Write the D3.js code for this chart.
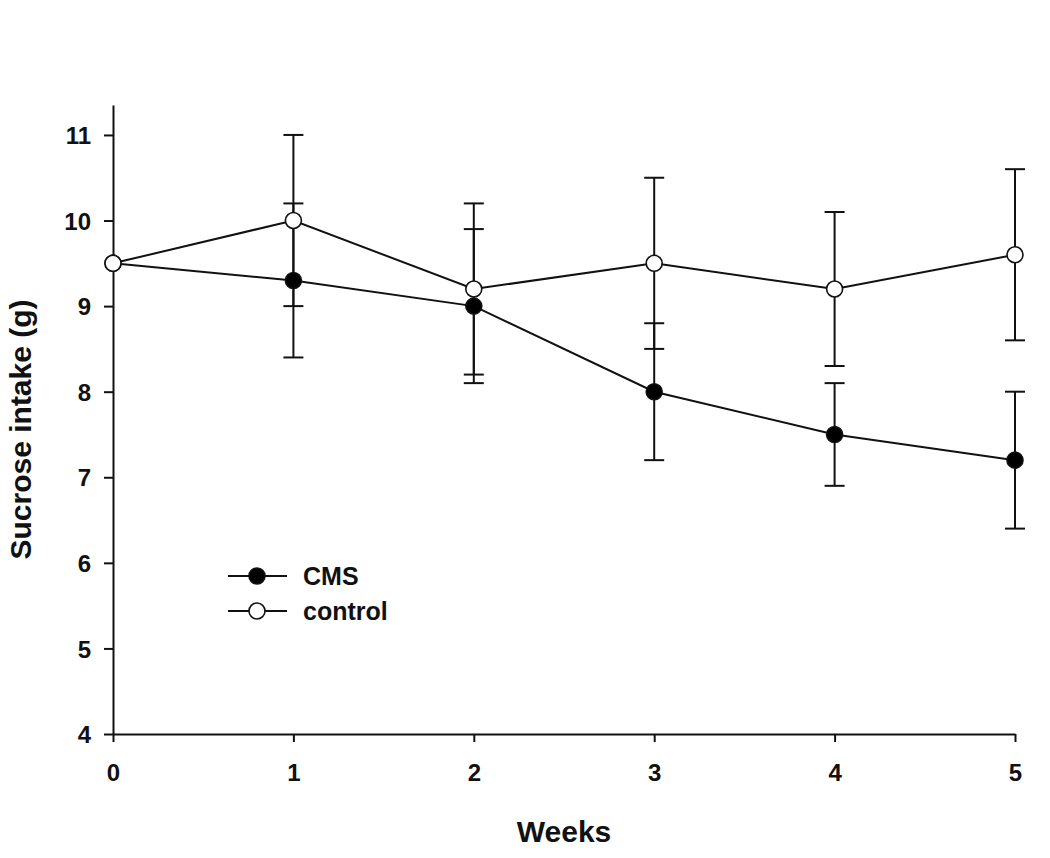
<!DOCTYPE html>
<html>
<head>
<meta charset="utf-8">
<script src="https://cdn.jsdelivr.net/npm/d3@7"></script>
<style>
  html, body { margin: 0; padding: 0; background: #fff; }
  svg { display: block; }
  text { font-family: "Liberation Sans", Arial, sans-serif; font-weight: bold; fill: #111; }
</style>
</head>
<body>
<svg id="chart" width="1050" height="858"></svg>
<script>
// ---- data ----
const weeks = [0, 1, 2, 3, 4, 5];
const cmsMean  = [9.5, 9.3, 9.0, 8.0, 7.5, 7.2];
const cmsLow   = [9.5, 8.4, 8.1, 7.2, 6.9, 6.4];
const cmsHigh  = [9.5, 10.2, 9.9, 8.8, 8.1, 8.0];
const ctlMean  = [9.5, 10.0, 9.2, 9.5, 9.2, 9.6];
const ctlLow   = [9.5, 9.0, 8.2, 8.5, 8.3, 8.6];
const ctlHigh  = [9.5, 11.0, 10.2, 10.5, 10.1, 10.6];
const xTicks = [0, 1, 2, 3, 4, 5];
const yTicks = [4, 5, 6, 7, 8, 9, 10, 11];
const seriesNames = ["CMS", "control"];
const xTitle = "Weeks";
const yTitle = "Sucrose intake (g)";

// ---- layout ----
const svg = d3.select("#chart");
const x = d3.scaleLinear().domain([0, 5]).range([113, 1015]);
const y = d3.scaleLinear().domain([4, 11.35]).range([734, 105]);

const series = [
  { name: seriesNames[0], mean: cmsMean, low: cmsLow, high: cmsHigh, fill: "#000" },
  { name: seriesNames[1], mean: ctlMean, low: ctlLow, high: ctlHigh, fill: "#fff" }
];

// axes
const xAxis = svg.append("g").attr("transform", `translate(0,${y(4)})`)
  .call(d3.axisBottom(x).tickValues(xTicks).tickFormat(d3.format("d"))
    .tickSize(8).tickSizeOuter(0).tickPadding(22));
const yAxis = svg.append("g").attr("transform", `translate(${x(0)},0)`)
  .call(d3.axisLeft(y).tickValues(yTicks).tickFormat(d3.format("d"))
    .tickSize(9).tickSizeOuter(0).tickPadding(13));
[xAxis, yAxis].forEach(g => {
  g.selectAll("path.domain").attr("stroke", "#111").attr("stroke-width", 2);
  g.selectAll(".tick line").attr("stroke", "#111").attr("stroke-width", 2);
  g.selectAll(".tick text").style("font-size", "24px").style("font-weight", "bold")
    .style("font-family", '"Liberation Sans", Arial, sans-serif').attr("fill", "#111");
});
yAxis.selectAll(".tick text").attr("dy", "0.36em");

// titles
svg.append("text").attr("x", (x(0) + x(5)) / 2).attr("y", 842)
  .attr("text-anchor", "middle").style("font-size", "30px").text(xTitle);
svg.append("text").attr("transform", `translate(31,${(y(4) + y(11)) / 2 - 5}) rotate(-90)`)
  .attr("text-anchor", "middle").style("font-size", "30px").text(yTitle);

// error bars
const capW = 10;
series.forEach(s => {
  const g = svg.append("g");
  weeks.forEach((w, i) => {
    if (s.low[i] === s.high[i]) return;
    g.append("line").attr("x1", x(w)).attr("x2", x(w))
      .attr("y1", y(s.low[i])).attr("y2", y(s.high[i]))
      .attr("stroke", "#111").attr("stroke-width", 2);
    [s.low[i], s.high[i]].forEach(v => {
      g.append("line").attr("x1", x(w) - capW).attr("x2", x(w) + capW)
        .attr("y1", y(v)).attr("y2", y(v))
        .attr("stroke", "#111").attr("stroke-width", 2);
    });
  });
});

// lines
const line = d3.line().x((d, i) => x(weeks[i])).y(d => y(d));
series.forEach(s => {
  svg.append("path").datum(s.mean).attr("d", line)
    .attr("fill", "none").attr("stroke", "#111").attr("stroke-width", 2);
});

// markers (control drawn after CMS)
series.forEach(s => {
  svg.append("g").selectAll("circle").data(s.mean).join("circle")
    .attr("cx", (d, i) => x(weeks[i])).attr("cy", d => y(d))
    .attr("r", 8).attr("fill", s.fill).attr("stroke", "#111").attr("stroke-width", 1.6);
});

// legend
const leg = svg.append("g");
series.forEach((s, i) => {
  const ly = 576 + i * 35;
  leg.append("line").attr("x1", 228).attr("x2", 287).attr("y1", ly).attr("y2", ly)
    .attr("stroke", "#111").attr("stroke-width", 2);
  leg.append("circle").attr("cx", 257).attr("cy", ly).attr("r", 8)
    .attr("fill", s.fill).attr("stroke", "#111").attr("stroke-width", 1.6);
  leg.append("text").attr("x", 303).attr("y", ly).attr("dy", "0.36em")
    .style("font-size", "25px").text(s.name);
});
</script>
</body>
</html>
